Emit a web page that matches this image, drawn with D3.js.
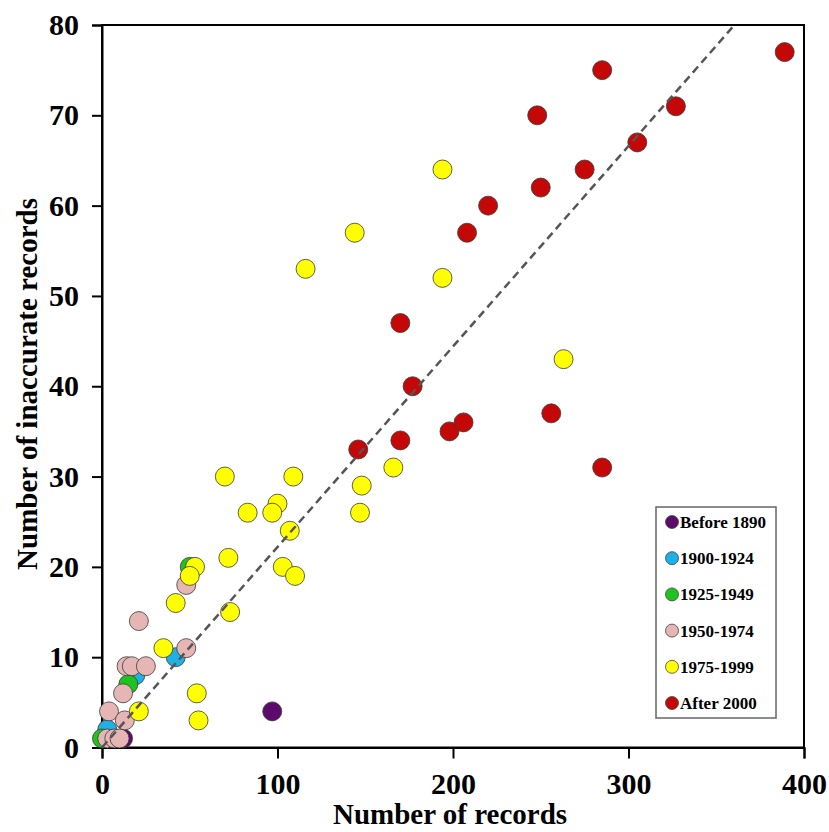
<!DOCTYPE html>
<html>
<head>
<meta charset="utf-8">
<script src="https://cdn.jsdelivr.net/npm/d3@7"></script>
<style>
  html, body { margin: 0; padding: 0; background: #fff; }
  svg { display: block; }
  text { font-family: "Liberation Serif", "Times New Roman", serif; font-weight: bold; fill: #000; }
</style>
</head>
<body>
<script>
// ---- Data ----
const groups = ["Before 1890", "1900-1924", "1925-1949", "1950-1974", "1975-1999", "After 2000"];
const groupColors = ["#5c0a6b", "#1fb0e6", "#1ec41e", "#e6b6b4", "#ffff00", "#c40808"];

const before1890 = [[97, 4], [12, 1]];
const y1900_1924 = [[42, 10], [19, 8], [3, 2]];
const y1925_1949 = [[0, 1], [15, 7], [50, 20]];
const y1950_1974 = [[21, 14], [48, 18], [48, 11], [14, 9], [17, 9], [25, 9], [12, 6], [4, 4], [13, 3], [3, 1], [7, 1], [10, 1]];
const y1975_1999 = [[194, 64], [144, 57], [116, 53], [194, 52], [263, 43], [166, 31], [148, 29], [147, 26],
  [109, 30], [70, 30], [100, 27], [83, 26], [97, 26], [107, 24], [72, 21], [103, 20], [110, 19], [73, 15],
  [53, 20], [50, 19], [42, 16], [35, 11], [54, 6], [55, 3], [21, 4]];
const after2000 = [[389, 77], [285, 75], [327, 71], [248, 70], [305, 67], [275, 64], [250, 62], [220, 60],
  [208, 57], [170, 47], [177, 40], [146, 33], [170, 34], [198, 35], [206, 36], [256, 37], [285, 31]];
const seriesData = [before1890, y1900_1924, y1925_1949, y1950_1974, y1975_1999, after2000];

const xTicks = [0, 100, 200, 300, 400];
const yTicks = [0, 10, 20, 30, 40, 50, 60, 70, 80];
const fitSlope = 0.222; // dashed fit line through origin

// ---- Layout ----
const W = 829, H = 832;
const mLeft = 102, mRight = 804, mTop = 25, mBottom = 747.5;

const svg = d3.select("body").append("svg").attr("width", W).attr("height", H);

const x = d3.scaleLinear().domain([0, 400]).range([mLeft, mRight]);
const y = d3.scaleLinear().domain([0, 80]).range([mBottom, mTop]);

// frame
svg.append("rect")
  .attr("x", mLeft).attr("y", mTop)
  .attr("width", mRight - mLeft).attr("height", mBottom - mTop)
  .attr("fill", "none").attr("stroke", "#000").attr("stroke-width", 2);

// axes
const gx = svg.append("g").attr("transform", `translate(0,${mBottom})`)
  .call(d3.axisBottom(x).tickValues(xTicks).tickSize(11).tickPadding(14).tickFormat(d3.format("d")));
const gy = svg.append("g").attr("transform", `translate(${mLeft},0)`)
  .call(d3.axisLeft(y).tickValues(yTicks).tickSize(10).tickPadding(13).tickFormat(d3.format("d")));
[gx, gy].forEach(g => {
  g.select(".domain").attr("stroke", "#000").attr("stroke-width", 2);
  g.selectAll(".tick line").attr("stroke", "#000").attr("stroke-width", 2);
  g.selectAll(".tick text")
    .attr("fill", "#000")
    .style("font-family", "'Liberation Serif', 'Times New Roman', serif")
    .style("font-weight", "bold")
    .style("font-size", "30px");
});

// axis titles
svg.append("text")
  .attr("x", (mLeft + mRight) / 2 - 3).attr("y", 824)
  .attr("text-anchor", "middle").style("font-size", "29px")
  .text("Number of records");
svg.append("text")
  .attr("transform", `translate(37,${384}) rotate(-90)`)
  .attr("text-anchor", "middle").style("font-size", "29px")
  .text("Number of inaccurate records");

// points
seriesData.forEach((pts, i) => {
  svg.append("g").selectAll("circle").data(pts).join("circle")
    .attr("cx", d => x(d[0]))
    .attr("cy", d => y(d[1]))
    .attr("r", 9.5)
    .attr("fill", groupColors[i])
    .attr("stroke", "#3a3a3a")
    .attr("stroke-opacity", 0.8)
    .attr("stroke-width", 1);
});

// dashed fit line
const xEnd = 80 / fitSlope;
svg.append("line")
  .attr("x1", x(0)).attr("y1", y(0))
  .attr("x2", x(xEnd)).attr("y2", y(80))
  .attr("stroke", "#555").attr("stroke-width", 2.5)
  .attr("stroke-dasharray", "8,5");

// legend
const lg = svg.append("g");
lg.append("rect")
  .attr("x", 656).attr("y", 507).attr("width", 120).attr("height", 211)
  .attr("fill", "#fff").attr("stroke", "#666").attr("stroke-width", 1.5);
groups.forEach((g, i) => {
  const cy = 522 + i * 36.2;
  lg.append("circle").attr("cx", 672).attr("cy", cy).attr("r", 6.5)
    .attr("fill", groupColors[i]).attr("stroke", "#444").attr("stroke-width", 0.8);
  lg.append("text").attr("x", 680).attr("y", cy).attr("dy", "0.35em")
    .style("font-size", "17px").text(g);
});
</script>
</body>
</html>
